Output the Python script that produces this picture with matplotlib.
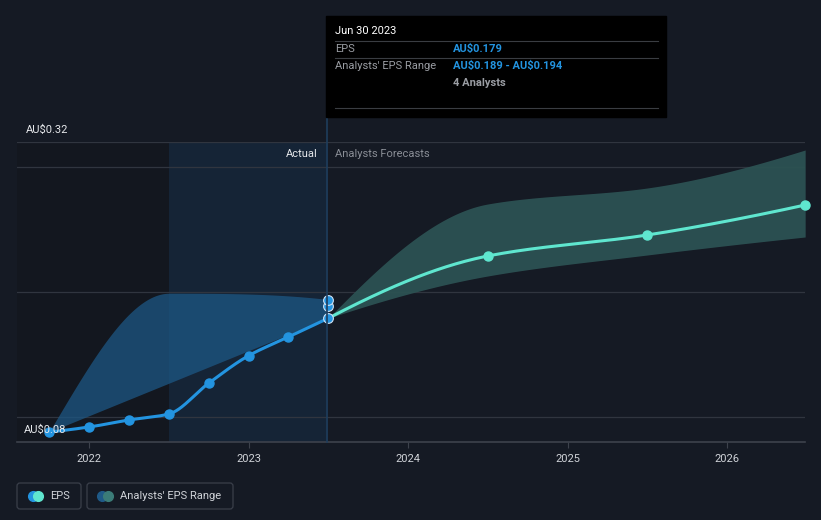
import numpy as np
import matplotlib
matplotlib.use("Agg")
import matplotlib.pyplot as plt
from matplotlib.patches import Rectangle, FancyBboxPatch

plt.rcParams['font.family'] = ['Roboto', 'DejaVu Sans']

# 实际 EPS（季度）
actual_t = [2021.75, 2022.0, 2022.25, 2022.5, 2022.75, 2023.0, 2023.25, 2023.5]
actual_eps = [0.088, 0.092, 0.0976, 0.1024, 0.127, 0.149, 0.164, 0.179]

# 过去分析师区间
past_range_t = [2021.75, 2022.5, 2023.5]
past_range_hi = [0.088, 0.199, 0.194]
past_range_lo_t = [2021.75, 2023.5]
past_range_lo = [0.088, 0.179]
range_points = [0.189, 0.194]

# 预测
fc_t = [2023.5, 2024.5, 2025.5, 2026.49]
fc_eps = [0.179, 0.2288, 0.2456, 0.2696]
fc_hi = [0.179, 0.2704, 0.2832, 0.3136]
fc_lo = [0.179, 0.2128, 0.2296, 0.244]

years = [2022, 2023, 2024, 2025, 2026]

BG = '#151a24'
BLUE = '#2394e0'
TEAL = '#5fe6cf'


def end_slope(h0, h1, d0, d1):
    m = ((2 * h0 + h1) * d0 - h0 * d1) / (h0 + h1)
    if np.sign(m) != np.sign(d0):
        m = 0
    elif np.sign(d0) != np.sign(d1) and abs(m) > abs(3 * d0):
        m = 3 * d0
    return m


def pchip(xs, ys, xq):
    xs = np.asarray(xs, float)
    ys = np.asarray(ys, float)
    h = np.diff(xs)
    d = np.diff(ys) / h
    n = len(xs)
    m = np.zeros(n)
    if n == 2:
        m[:] = d[0]
    else:
        for k in range(1, n - 1):
            if d[k - 1] * d[k] <= 0:
                m[k] = 0
            else:
                w1 = 2 * h[k] + h[k - 1]
                w2 = h[k] + 2 * h[k - 1]
                m[k] = (w1 + w2) / (w1 / d[k - 1] + w2 / d[k])
        m[0] = end_slope(h[0], h[1], d[0], d[1])
        m[-1] = end_slope(h[-1], h[-2], d[-1], d[-2])
    out = np.empty_like(xq)
    for i, x in enumerate(xq):
        k = min(max(np.searchsorted(xs, x) - 1, 0), n - 2)
        t = (x - xs[k]) / h[k]
        h00 = 2 * t**3 - 3 * t**2 + 1
        h10 = t**3 - 2 * t**2 + t
        h01 = -2 * t**3 + 3 * t**2
        h11 = t**3 - t**2
        out[i] = h00 * ys[k] + h10 * h[k] * m[k] + h01 * ys[k + 1] + h11 * h[k] * m[k + 1]
    return out


W, H = 821, 520
fig = plt.figure(figsize=(W / 100, H / 100), dpi=100, facecolor=BG)

x0, x1 = 17, 805
ytop, ybot = 142, 442
ax = fig.add_axes([x0 / W, 1 - ybot / H, (x1 - x0) / W, (ybot - ytop) / H])
ax.set_facecolor(BG)
xlim = (2022 - 72 / 159.5, 2022 + 716 / 159.5)
ax.set_xlim(*xlim)
ax.set_ylim(0.08, 0.32)
for s in ax.spines.values():
    s.set_visible(False)

# 背景区域
ax.axvspan(xlim[0], 2022.5, color='#13171f', zorder=0, lw=0)
ax.axvspan(2022.5, 2023.5, color='#152436', zorder=0, lw=0)

# 网格线
for v in [0.1, 0.2, 0.3, 0.32]:
    ax.axhline(v, color='#30353f', lw=0.9, zorder=1)
ax.axhline(0.08, color='#3d424c', lw=1.2, zorder=1, clip_on=False)

# 过去区间
tt = np.linspace(past_range_t[0], past_range_t[-1], 200)
hi = pchip(past_range_t, past_range_hi, tt)
lo = np.interp(tt, past_range_lo_t, past_range_lo)
ax.fill_between(tt, lo, hi, color='#1d5784', alpha=0.75, lw=0, zorder=2)

# 预测区间
tf = np.linspace(fc_t[0], fc_t[-1], 300)
ax.fill_between(tf, pchip(fc_t, fc_lo, tf), pchip(fc_t, fc_hi, tf),
                color='#2c5253', alpha=0.95, lw=0, zorder=2)

# EPS 线
ta = np.linspace(actual_t[0], actual_t[-1], 300)
ax.plot(ta, pchip(actual_t, actual_eps, ta), color=BLUE, lw=2.2, zorder=4,
        solid_capstyle='round')
ax.plot(actual_t[:-1], actual_eps[:-1], 'o', color=BLUE, ms=6.5, zorder=5)
ax.plot(tf, pchip(fc_t, fc_eps, tf), color=TEAL, lw=2.2, zorder=4, clip_on=False)
ax.plot(fc_t[1:], fc_eps[1:], 'o', color=TEAL, ms=6.5, zorder=5, clip_on=False)
ax.plot([actual_t[-1]] * 2, range_points, 'o', color=BLUE, ms=7, mec='#cfe3f5',
        mew=0.8, zorder=6)
ax.plot(actual_t[-1], actual_eps[-1], 'o', color=BLUE, ms=7, mec='#cfe3f5',
        mew=0.8, zorder=6)

# x 轴刻度
ax.set_yticks([])
ax.set_xticks(years)
ax.set_xticklabels([str(y) for y in years], color='#d0d3d8', fontsize=8)
ax.tick_params(axis='x', length=4, color='#3d424c', pad=5)

# 覆盖层（像素坐标）
ov = fig.add_axes([0, 0, 1, 1], facecolor='none')
ov.set_xlim(0, W)
ov.set_ylim(H, 0)
ov.axis('off')

ov.plot([326.5, 326.5], [117, 442], color='#1e3d5c', lw=1.2)

ov.text(26, 130, 'AU$0.32', color='#e6e8eb', fontsize=8, va='center')
ov.text(24, 430, 'AU$0.08', color='#e6e8eb', fontsize=8, va='center')
ov.text(318, 154, 'Actual', color='#e6e8eb', fontsize=8, va='center', ha='right')
ov.text(335, 154, 'Analysts Forecasts', color='#8a8e96', fontsize=8, va='center')

# 提示框
ov.add_patch(Rectangle((326, 16), 340, 101, color='#000000', zorder=10))
for yy in [41, 58, 108]:
    ov.plot([335, 658], [yy, yy], color='#3a3d42', lw=0.8, zorder=11)
ov.text(335, 31, 'Jun 30 2023', color='#ffffff', fontsize=8, va='center', zorder=12)
ov.text(335, 49, 'EPS', color='#9a9da3', fontsize=8, va='center', zorder=12)
ov.text(453, 49, 'AU$0.179', color=BLUE, fontsize=8, va='center',
        fontweight='bold', zorder=12)
ov.text(335, 66, "Analysts' EPS Range", color='#9a9da3', fontsize=8, va='center', zorder=12)
ov.text(453, 66, 'AU\\$0.189 - AU\\$0.194', color=BLUE, fontsize=8, va='center',
        fontweight='bold', zorder=12)
ov.text(453, 83, '4 Analysts', color='#9a9da3', fontsize=8, va='center',
        fontweight='bold', zorder=12)

# 图例
for bx, bw in [(17, 64), (87, 146)]:
    ov.add_patch(FancyBboxPatch((bx, 483), bw, 26, boxstyle='round,pad=0,rounding_size=3',
                                fc='none', ec='#3a3f4a', lw=0.9))
ov.plot([33], [496], 'o', color=BLUE, ms=7)
ov.plot([38], [496], 'o', color=TEAL, ms=7)
ov.text(50, 496, 'EPS', color='#d0d3d8', fontsize=8, va='center')
ov.plot([102], [496], 'o', color='#1f5a88', ms=7)
ov.plot([108], [496], 'o', color='#3b7c78', ms=7)
ov.text(120, 496, "Analysts' EPS Range", color='#d0d3d8', fontsize=8, va='center')

fig.savefig('out.png', dpi=100, facecolor=BG)
